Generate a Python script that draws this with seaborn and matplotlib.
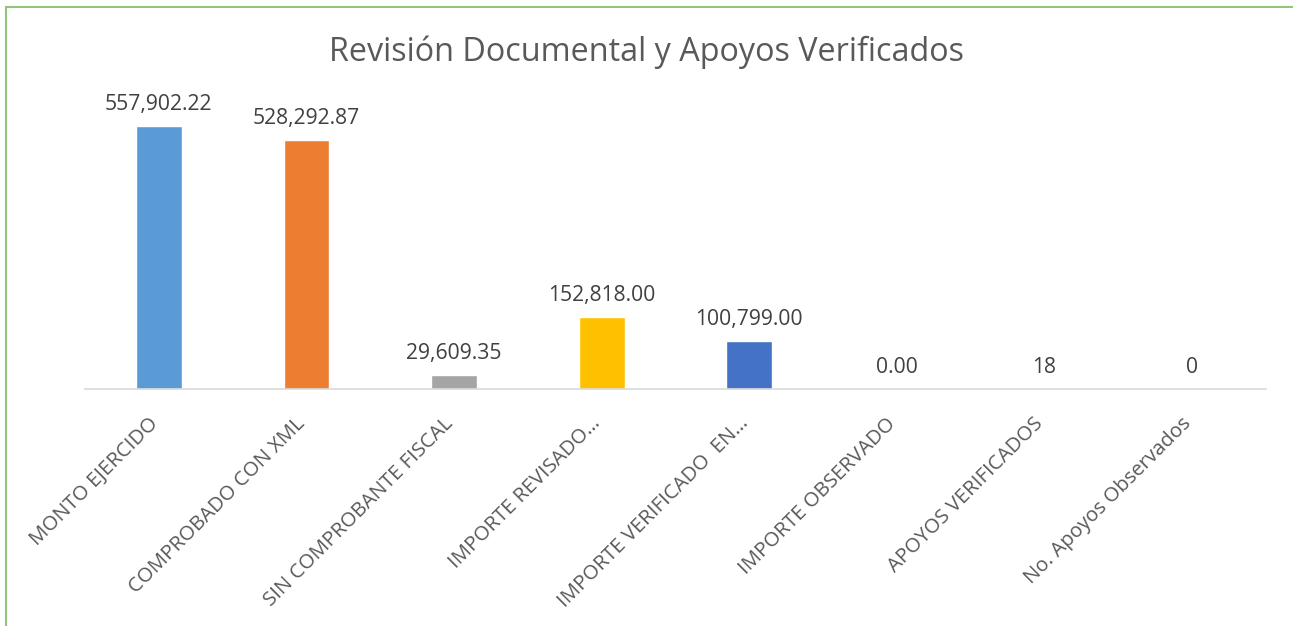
import matplotlib
matplotlib.use("Agg")
import matplotlib.pyplot as plt
import matplotlib.transforms as mtransforms
import seaborn as sns
import pandas as pd

# Chart data
categories = [
    "MONTO EJERCIDO",
    "COMPROBADO CON XML",
    "SIN COMPROBANTE FISCAL",
    "IMPORTE REVISADO…",
    "IMPORTE VERIFICADO  EN…",
    "IMPORTE OBSERVADO",
    "APOYOS VERIFICADOS",
    "No. Apoyos Observados",
]
values = [557902.22, 528292.87, 29609.35, 152818.00, 100799.00, 0.00, 18, 0]
value_labels = ["557,902.22", "528,292.87", "29,609.35", "152,818.00",
                "100,799.00", "0.00", "18", "0"]
bar_colors = ["#5B9BD5", "#ED7D31", "#A5A5A5", "#FFC000", "#4472C4",
              "#5B9BD5", "#ED7D31", "#A5A5A5"]

df = pd.DataFrame({"categoria": categories, "valor": values})

sns.set_theme(style="white")
plt.rcParams["font.family"] = ["Open Sans", "DejaVu Sans"]

fig = plt.figure(figsize=(12.93, 6.26), dpi=100)
W, H = 1293, 626
ax = fig.add_axes([85 / W, 1 - 389 / H, (1266 - 85) / W, (389 - 106) / H])

sns.barplot(data=df, x="categoria", y="valor", hue="categoria",
            palette=bar_colors, width=0.31, legend=False, ax=ax, saturation=1)

ax.set_ylim(0, 600000)
ax.set_xlim(-0.5, len(categories) - 0.5)
ax.set_xlabel("")
ax.set_ylabel("")
ax.set_yticks([])
for side in ["top", "right", "left"]:
    ax.spines[side].set_visible(False)
ax.spines["bottom"].set_color("#D9D9D9")
ax.spines["bottom"].set_linewidth(1.2)
ax.tick_params(axis="x", length=0, pad=2)

# rotated category labels, ending just right of each bar centre
offset = mtransforms.ScaledTranslation(0.03, -0.22, fig.dpi_scale_trans)
ax.set_xticks(range(len(categories)))
ax.set_xticklabels(categories, rotation=45, ha="right", va="top",
                   fontsize=14.7, color="#595959")
for lbl in ax.get_xticklabels():
    lbl.set_transform(lbl.get_transform() + offset)

# value labels
for i, (v, txt) in enumerate(zip(values, value_labels)):
    ax.annotate(txt, (i, v), xytext=(0, 8), textcoords="offset points",
                ha="center", va="bottom", fontsize=15.2, color="#404040")

fig.suptitle("Revisión Documental y Apoyos Verificados", y=1 - 52 / H,
             va="center", fontsize=23.3, color="#595959")

# green frame around the chart area
frame = matplotlib.patches.Rectangle((6 / W, -0.1), 1.2, 1 - 7 / H + 0.1,
                                     transform=fig.transFigure, fill=False,
                                     edgecolor="#92C47D", linewidth=1.5)
fig.patches.append(frame)

fig.savefig("out.png", dpi=100, facecolor="white")
